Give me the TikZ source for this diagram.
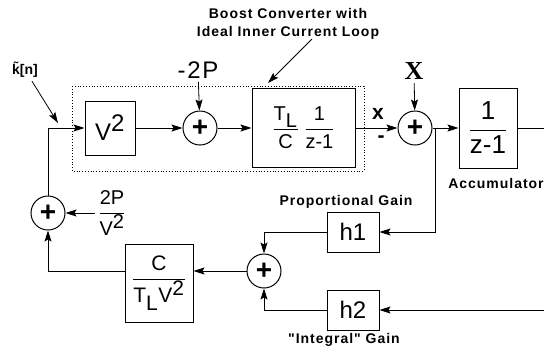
\documentclass[tikz,border=0pt]{standalone}
\usepackage{fontspec}
\setmainfont{Liberation Sans}
\newfontfamily\labelfont[LetterSpace=7]{Liberation Sans}
\newfontfamily\timesfont{Liberation Serif}
\usetikzlibrary{positioning,arrows.meta}
\newcommand{\bfrac}[2]{$\displaystyle\frac{\mbox{#1}}{\mbox{#2}}$}

\begin{document}
\begin{tikzpicture}[x=1pt, y=-1pt,
    block/.style={rectangle, draw, line width=1pt, inner sep=2pt,
      font=\fontsize{24}{26}\selectfont},
    adder/.style={circle, draw, line width=1pt, minimum size=34pt, inner sep=0pt,
      font=\fontsize{28}{28}\selectfont\bfseries},
    note/.style={font=\labelfont\bfseries\fontsize{14}{18}\selectfont, align=center},
    sig/.style={-{Stealth[length=11pt,width=7pt,inset=2pt]}, line width=0.8pt}]
    \useasboundingbox (0,0) rectangle (544,357);
    % forward path
    \node[block, minimum width=50pt, minimum height=54pt] (vsq) at (110,128) {V$^{\mbox{2}}$};
    \node[adder] (s1) at (200,128) {+};
    \node[block, minimum width=103pt, minimum height=79pt, font=\fontsize{20}{22}\selectfont]
      (plant) at (303.5,128) {\bfrac{T$_{\mbox{L}}$}{C}\;\bfrac{1}{z-1}};
    \node[adder] (s2) at (415,128) {+};
    \node[block, minimum width=58pt, minimum height=80pt, font=\fontsize{26}{28}\selectfont]
      (acc) at (488,128) {\bfrac{1}{z-1}};
    % feedback path
    \node[block, minimum width=52pt, minimum height=40pt] (h1) at (353,232) {h1};
    \node[block, minimum width=52pt, minimum height=40pt] (h2) at (353,310) {h2};
    \node[adder] (s3) at (264,271) {+};
    \node[block, minimum width=68pt, minimum height=78pt, font=\fontsize{21}{23}\selectfont]
      (gc) at (159,283) {\bfrac{C}{T$_{\mbox{L}}$V$^{\mbox{2}}$}};
    \node[adder] (s4) at (48,213) {+};
    % inputs and labels
    \node[font=\labelfont\fontsize{24}{24}\selectfont] (m2p) at (198,70) {-2P};
    \node[font=\timesfont\bfseries\fontsize{26}{26}\selectfont] (xin) at (414,71) {X};
    \node[font=\bfseries\fontsize{21}{21}\selectfont] (xlab) at (378,114) {x};
    \node[font=\bfseries\fontsize{21}{21}\selectfont] (minus) at (381,139) {-};
    \node[font=\bfseries\fontsize{14}{14}\selectfont] (kn) at (25,70) {\~{k}[n]};
    \node[font=\fontsize{20}{22}\selectfont] (pv) at (112,213) {\bfrac{2P}{V$^{\mbox{2}}$}};
    \node[note] (boost) at (288,24) {Boost Converter with\\Ideal Inner Current Loop};
    \node[note] (acclab) at (496,183) {Accumulator};
    \node[note] (plab) at (346,202) {Proportional Gain};
    \node[note] (ilab) at (344,340) {"Integral" Gain};
    \coordinate (kin) at (58,123);
    \coordinate (tip) at (268,83);
    \coordinate (tap) at (435,128);
    \coordinate (outA) at (544,128);
    \coordinate (outB) at (544,310);
    \draw[dotted, line width=0.8pt] (72,86) rectangle (364,171);
    % connectors
    \draw[sig] (s4.north) |- (vsq.west);
    \draw[sig] (vsq) -- (s1);
    \draw[sig] (m2p) -- (s1);
    \draw[sig] (s1) -- (plant);
    \draw[sig] (plant) -- (s2);
    \draw[sig] (xin) -- (s2);
    \draw[sig] (s2) -- (acc);
    \draw[line width=0.8pt] (acc) -- (outA);
    \draw[sig] (tap) |- (h1);
    \draw[sig] (outB) -- (h2);
    \draw[sig] (h1) -| (s3);
    \draw[sig] (h2) -| (s3);
    \draw[sig] (s3) -- (s3 -| gc.east);
    \draw[sig] (gc.west |- s3) -| (s4);
    \draw[sig] (pv) -- (s4);
    \draw[sig] (kn) -- (kin);
    \draw[sig] ([xshift=24pt,yshift=4pt]boost.south) -- (tip);
\end{tikzpicture}
\end{document}
